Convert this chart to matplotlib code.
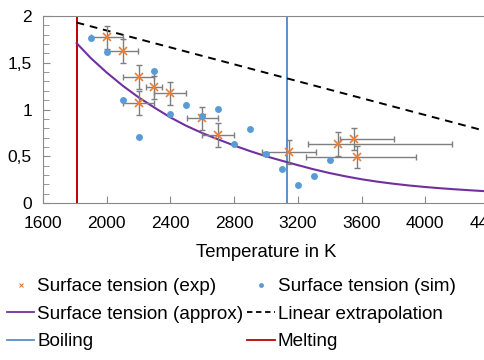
import numpy as np
import matplotlib
matplotlib.use('Agg')
import matplotlib.pyplot as plt
from matplotlib.lines import Line2D
from matplotlib.ticker import MultipleLocator, FuncFormatter

plt.rcParams['font.family'] = ['Liberation Sans', 'DejaVu Sans']
plt.rcParams['font.size'] = 12

# experimental surface tension with error bars
exp_T = [2003, 2100, 2200, 2200, 2298, 2400, 2601, 2699, 3144, 3450, 3550, 3572]
exp_s = [1.772, 1.629, 1.344, 1.073, 1.237, 1.173, 0.906, 0.727, 0.547, 0.631, 0.684, 0.492]
exp_xerr_lo = [100, 98, 100, 100, 50, 100, 100, 100, 167, 184, 88, 323]
exp_xerr_hi = [100, 98, 100, 100, 50, 100, 100, 100, 167, 717, 252, 367]
exp_yerr = [0.126, 0.128, 0.128, 0.128, 0.125, 0.125, 0.125, 0.125, 0.128, 0.125, 0.12, 0.12]

# simulated surface tension
sim_T = [1900, 2000, 2100, 2200, 2300, 2400, 2500, 2600, 2700, 2800, 2900, 3000, 3100, 3200, 3300, 3400]
sim_s = [1.761, 1.618, 1.098, 0.706, 1.412, 0.952, 1.045, 0.930, 1.002, 0.631, 0.788, 0.521, 0.367, 0.196, 0.289, 0.457]

# approximation curve
approx_T = [1811, 1900, 2000, 2100, 2200, 2300, 2400, 2500, 2600, 2700, 2800, 2900,
            3000, 3100, 3200, 3300, 3400, 3500, 3600, 3700, 3800, 3900, 4000,
            4100, 4200, 4300, 4400]
approx_s = [1.71, 1.55, 1.395, 1.255, 1.13, 1.02, 0.915, 0.825, 0.748, 0.68, 0.615, 0.555,
            0.50, 0.452, 0.405, 0.36, 0.32, 0.285, 0.254, 0.228, 0.206, 0.187, 0.171,
            0.157, 0.145, 0.134, 0.124]

# linear extrapolation
lin_T = [1811, 4400]
lin_s = [1.93, 0.76]

melting_T = 1811
boiling_T = 3134

c_exp = '#ED7D31'
c_sim = '#5B9BD5'
c_approx = '#7030A0'
c_boil = '#5B8FC7'
c_melt = '#C00000'
c_err = '#7F7F7F'
c_spine = '#898989'

fig = plt.figure(figsize=(4.85, 3.6), dpi=100)
ax = fig.add_axes([43/485, 1-203/360, (489-43)/485, (203-16)/360])

ax.axvline(melting_T, color=c_melt, lw=1.4, zorder=2)
ax.axvline(boiling_T, color=c_boil, lw=1.4, zorder=2)
ax.plot(approx_T, approx_s, color=c_approx, lw=1.5, zorder=3)
ax.plot(lin_T, lin_s, color='black', lw=1.4, ls=(0, (4, 3)), zorder=3)
ax.errorbar(exp_T, exp_s, xerr=[exp_xerr_lo, exp_xerr_hi], yerr=exp_yerr,
            fmt='none', ecolor=c_err, elinewidth=1.0, capsize=2.5, capthick=1.0, zorder=4)
ax.plot(exp_T, exp_s, ls='none', marker='x', color=c_exp, ms=5.5, mew=1.2, zorder=5)
ax.plot(sim_T, sim_s, ls='none', marker='o', color=c_sim, ms=5, mew=0, zorder=5)

ax.set_xlim(1600, 4400)
ax.set_ylim(0, 2)
ax.xaxis.set_major_locator(MultipleLocator(400))
ax.yaxis.set_major_locator(MultipleLocator(0.5))
ax.yaxis.set_minor_locator(MultipleLocator(0.1))
ax.yaxis.set_major_formatter(FuncFormatter(lambda v, p: ('%g' % v).replace('.', ',')))
ax.tick_params(axis='x', direction='in', length=5, color=c_spine, pad=9.5, labelsize=12.5)
ax.tick_params(axis='y', which='both', direction='in', length=5, color=c_spine, pad=8, labelsize=12.5)
ax.tick_params(axis='y', which='minor', length=4)
for s in ['left', 'bottom', 'top']:
    ax.spines[s].set_color(c_spine)
ax.spines['right'].set_visible(False)
ax.set_xlabel('Temperature in K', fontsize=13.3, labelpad=9)

handles = [
    Line2D([], [], ls='none', marker='x', color=c_exp, ms=3.5, mew=0.8),
    Line2D([], [], color=c_approx, lw=1.3),
    Line2D([], [], color=c_boil, lw=1.3),
    Line2D([], [], ls='none', marker='o', color=c_sim, ms=3.5, mew=0),
    Line2D([], [], color='black', lw=1.3, ls=(0, (3, 2))),
    Line2D([], [], color=c_melt, lw=1.3),
]
labels = ['Surface tension (exp)', 'Surface tension (approx)', 'Boiling',
          'Surface tension (sim)', 'Linear extrapolation', 'Melting']
fig.legend(handles, labels, ncol=2, loc='upper left', bbox_to_anchor=(7/485, 1-278/360),
           frameon=False, fontsize=13.6, handlelength=1.45, handletextpad=0.16,
           columnspacing=0.2, labelspacing=0.55, borderaxespad=0, borderpad=0)

fig.savefig('out.png', dpi=100)
